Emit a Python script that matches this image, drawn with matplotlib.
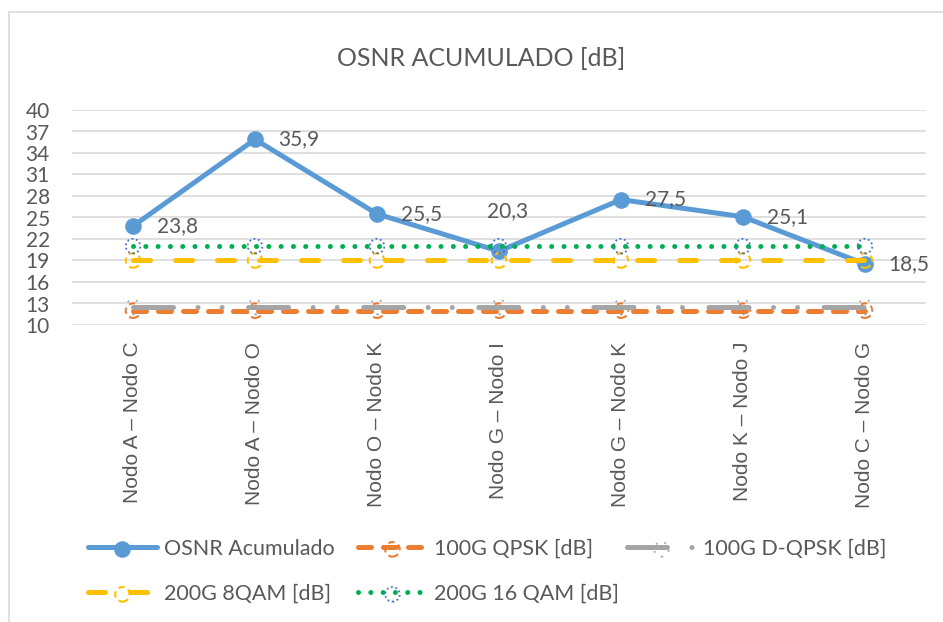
import numpy as np
import matplotlib
matplotlib.use("Agg")
import matplotlib.pyplot as plt
from matplotlib.patches import Rectangle

# tramos de la red
categories = ["Nodo A – Nodo C", "Nodo A – Nodo O", "Nodo O – Nodo K", "Nodo G – Nodo I",
              "Nodo G – Nodo K", "Nodo K – Nodo J", "Nodo C – Nodo G"]
osnr = [23.8, 35.9, 25.5, 20.3, 27.5, 25.1, 18.5]
qpsk_100 = [12, 12, 12, 12, 12, 12, 12]
dqpsk_100 = [12.5, 12.5, 12.5, 12.5, 12.5, 12.5, 12.5]
qam8_200 = [19, 19, 19, 19, 19, 19, 19]
qam16_200 = [21, 21, 21, 21, 21, 21, 21]
yticks = [10, 13, 16, 19, 22, 25, 28, 31, 34, 37, 40]
names = ["OSNR Acumulado", "100G QPSK [dB]", "100G D-QPSK [dB]",
         "200G 8QAM [dB]", "200G 16 QAM [dB]"]

W, H = 943, 622
txt = "#595959"
calib = ["Lato", "DejaVu Sans"]
fs = 15

fig = plt.figure(figsize=(W / 100, H / 100), dpi=100)
# borde del area del grafico
fig.patches.append(Rectangle((9 / W, -0.1), 1.2, 1 - 12 / H + 0.1, transform=fig.transFigure,
                             fill=False, edgecolor="#d9d9d9", lw=1.2))

ax = fig.add_axes([72 / W, 1 - 325 / H, (926 - 72) / W, (325 - 110) / H])
x = np.arange(len(categories))

lw = 3.6
ms = 110
l0, = ax.plot(x, osnr, color="#5b9bd5", lw=lw, solid_capstyle="round", zorder=3)
m0 = ax.scatter(x, osnr, s=120, color="#5b9bd5", zorder=3.1)

l1, = ax.plot(x, qpsk_100, color="#ed7d31", lw=lw, dash_capstyle="round",
              dashes=(2.6, 2.4), zorder=4)
m1 = ax.scatter(x, qpsk_100, s=ms, facecolors="none", edgecolors="#ed7d31",
                linewidths=1.5, linestyles=(0, (3, 2)), zorder=4.1)

l2, = ax.plot(x, dqpsk_100, color="#a5a5a5", lw=lw, dash_capstyle="round",
              dashes=(8, 4.9, 0.01, 4.8, 0.01, 5.3), zorder=5)
m2 = ax.scatter(x, dqpsk_100, s=ms, facecolors="none", edgecolors="#a5a5a5",
                linewidths=1.3, linestyles=(0, (1, 4)), zorder=5.1)

l3, = ax.plot(x, qam8_200, color="#ffc000", lw=lw, dash_capstyle="round",
              dashes=(3.4, 5.0), zorder=6)
m3 = ax.scatter(x, qam8_200, s=ms, facecolors="none", edgecolors="#ffc000",
                linewidths=1.5, linestyles=(0, (3, 2)), zorder=6.1)

l4, = ax.plot(x, qam16_200, color="#00b050", lw=lw, dash_capstyle="round",
              dashes=(0.01, 2.45), zorder=7)
m4 = ax.scatter(x, qam16_200, s=ms, facecolors="none", edgecolors="#4472c4",
                linewidths=1.3, linestyles=(0, (1, 1.5)), zorder=7.1)

# etiquetas de datos
for xi, v in zip(x, osnr):
    label = f"{v:.1f}".replace(".", ",")
    if xi == 3:
        ax.annotate(label, (xi, v), xytext=(6, 22), textcoords="offset points",
                    ha="center", va="bottom", fontsize=fs, color=txt, family=calib, zorder=8)
    else:
        ax.annotate(label, (xi, v), xytext=(17, 0), textcoords="offset points",
                    ha="left", va="center", fontsize=fs, color=txt, family=calib, zorder=8)

ax.set_xlim(-0.5, len(categories) - 0.5)
ax.set_ylim(10, 40)
ax.set_yticks(yticks)
ax.set_xticks(x)
ax.set_xticklabels(categories, rotation=90, fontsize=15, color=txt, family="Liberation Sans")
for t in ax.get_yticklabels():
    t.set_fontfamily(calib)
    t.set_fontsize(fs)
    t.set_color(txt)
ax.tick_params(axis="both", length=0)
ax.tick_params(axis="y", pad=16)
ax.tick_params(axis="x", pad=12)
ax.grid(axis="y", color="#d9d9d9", lw=1.2)
ax.set_axisbelow(True)
for s in ax.spines.values():
    s.set_visible(False)

fig.text(481 / W, 1 - 58 / H, "OSNR ACUMULADO [dB]", ha="center", va="center",
         fontsize=18, color=txt, family=calib)

# leyenda: una entrada por posicion
handles = [(l0, m0), (l1, m1), (l2, m2), (l3, m3), (l4, m4)]
spots = [(88, 549), (358, 549), (627, 549), (88, 594), (358, 594)]
for h, name, (px, py) in zip(handles, names, spots):
    leg = fig.legend([h], [name], loc="center left", bbox_to_anchor=(px / W, 1 - py / H),
                     frameon=False, borderpad=0, borderaxespad=0, handlelength=3.2,
                     handletextpad=0.35, scatterpoints=1, prop={"family": calib, "size": 15.5})
    for t in leg.get_texts():
        t.set_color(txt)

fig.savefig("out.png", dpi=100)
